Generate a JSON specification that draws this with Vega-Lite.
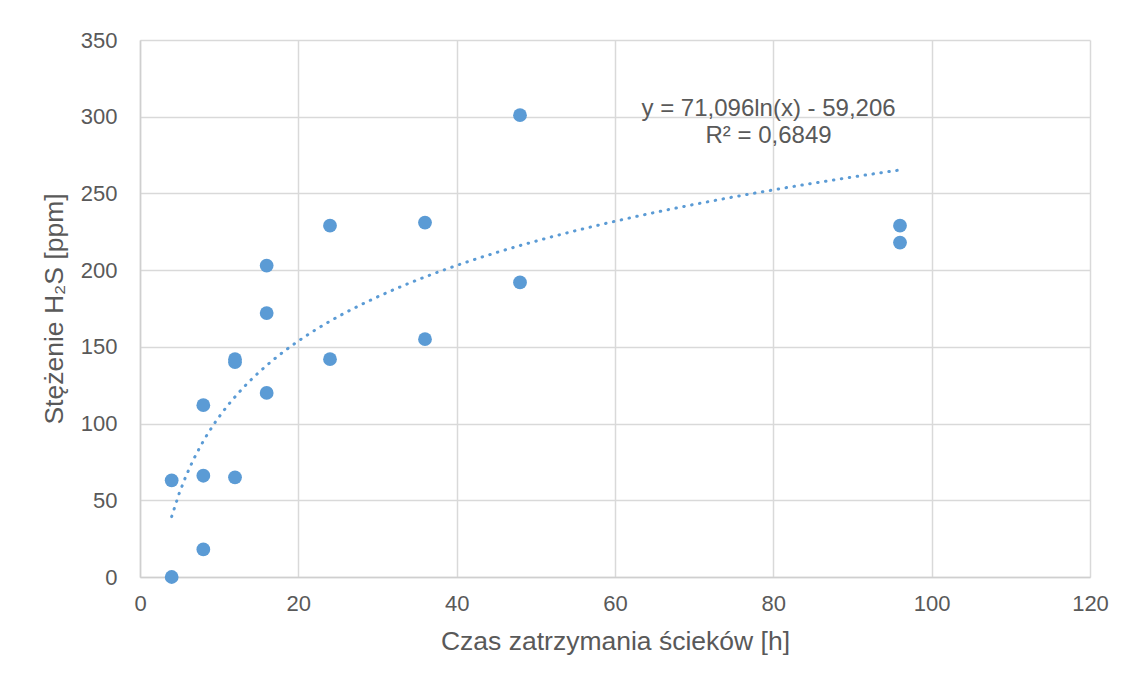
{
  "$schema": "https://vega.github.io/schema/vega-lite/v6.json",
  "autosize": "none",
  "width": 950,
  "height": 537,
  "padding": {"left": 140, "top": 40, "right": 39, "bottom": 107},
  "background": "white",
  "config": {
    "view": {"stroke": null},
    "font": "Liberation Sans",
    "axis": {
      "labelFont": "Liberation Sans",
      "titleFont": "Liberation Sans",
      "labelColor": "#595959",
      "titleColor": "#595959",
      "labelFontSize": 22,
      "titleFontSize": 26.5,
      "titleFontWeight": "normal",
      "gridColor": "#d9d9d9",
      "gridWidth": 1.5,
      "domainColor": "#cfcfcf",
      "domainWidth": 1.5,
      "ticks": false,
      "labelFlush": false
    }
  },
  "datasets": {
    "pts": [
      {"czas": 4, "h2s": 63}, {"czas": 4, "h2s": 0},
      {"czas": 8, "h2s": 112}, {"czas": 8, "h2s": 66}, {"czas": 8, "h2s": 18},
      {"czas": 12, "h2s": 142}, {"czas": 12, "h2s": 140}, {"czas": 12, "h2s": 65},
      {"czas": 16, "h2s": 203}, {"czas": 16, "h2s": 172}, {"czas": 16, "h2s": 120},
      {"czas": 24, "h2s": 229}, {"czas": 24, "h2s": 142},
      {"czas": 36, "h2s": 231}, {"czas": 36, "h2s": 155},
      {"czas": 48, "h2s": 301}, {"czas": 48, "h2s": 192},
      {"czas": 96, "h2s": 229}, {"czas": 96, "h2s": 218}
    ],
    "notes": [
      {"czas": 79.4, "h2s": 300.5, "label": "y = 71,096ln(x) - 59,206"},
      {"czas": 79.4, "h2s": 282.9, "label": "R² = 0,6849"}
    ]
  },
  "encoding": {
    "x": {
      "field": "czas", "type": "quantitative",
      "scale": {"domain": [0, 120], "nice": false},
      "axis": {"values": [0, 20, 40, 60, 80, 100, 120], "title": "Czas zatrzymania ścieków [h]", "labelPadding": 16, "titlePadding": 14}
    },
    "y": {
      "field": "h2s", "type": "quantitative",
      "scale": {"domain": [0, 350], "nice": false},
      "axis": {"values": [0, 50, 100, 150, 200, 250, 300, 350], "title": "Stężenie H₂S [ppm]", "labelPadding": 23, "titlePadding": 12}
    }
  },
  "layer": [
    {
      "data": {"name": "pts"},
      "transform": [
        {"regression": "h2s", "on": "czas", "method": "log", "extent": [4, 96]}
      ],
      "mark": {"type": "line", "color": "#5B9BD5", "strokeWidth": 3, "strokeDash": [0.5, 7.5], "strokeCap": "round", "clip": true}
    },
    {
      "data": {"name": "pts"},
      "mark": {"type": "circle", "color": "#5B9BD5", "opacity": 1, "size": 190}
    },
    {
      "data": {"name": "notes"},
      "mark": {"type": "text", "align": "center", "baseline": "alphabetic", "fontSize": 24, "color": "#595959", "font": "Liberation Sans"},
      "encoding": {"text": {"field": "label"}}
    }
  ]
}
